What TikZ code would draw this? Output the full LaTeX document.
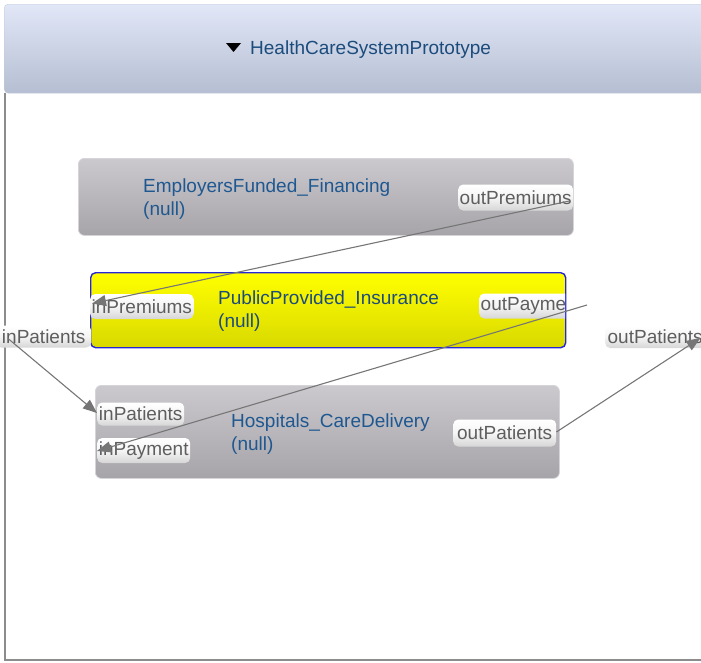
\documentclass[tikz,border=0pt]{standalone}
\usepackage{fontspec}
\setmainfont{Liberation Sans}
\usetikzlibrary{arrows.meta,calc}

\definecolor{hdrtop}{HTML}{E1E7F7}
\definecolor{hdrbot}{HTML}{B5BED2}
\definecolor{framegray}{HTML}{8C8C8C}
\definecolor{boxtop}{HTML}{CBC9CE}
\definecolor{boxbot}{HTML}{A6A4A9}
\definecolor{boxedge}{HTML}{D6D4D8}
\definecolor{yeltop}{HTML}{FFFF00}
\definecolor{yelbot}{HTML}{D9D900}
\definecolor{seledge}{HTML}{2626D9}
\definecolor{nametext}{HTML}{1F5890}
\definecolor{titletext}{HTML}{1C4C7C}
\definecolor{porttext}{HTML}{5E5E5E}
\definecolor{portbot}{HTML}{D6D6D6}
\definecolor{wire}{HTML}{767676}

\begin{document}
\begin{tikzpicture}[x=1pt,y=-1pt,
  every node/.style={font=\fontsize{19}{23}\selectfont},
  header/.style={top color=hdrtop, bottom color=hdrbot, draw=hdrbot!80!white,
    rounded corners=4pt, anchor=north west, inner sep=0pt},
  compbox/.style={top color=boxtop, bottom color=boxbot, draw=boxedge,
    line width=0.8pt, rounded corners=6pt, anchor=north west, inner sep=0pt},
  selbox/.style={top color=yeltop, bottom color=yelbot, draw=seledge,
    line width=1.4pt, rounded corners=5pt, anchor=north west, inner sep=0pt},
  compname/.style={text=nametext, align=left, anchor=west, inner sep=0pt},
  port/.style={top color=white, bottom color=portbot, middle color=white!96!black,
    rounded corners=5pt, text=porttext, inner xsep=1.5pt, inner ysep=0pt},
  conn/.style={draw=wire, line width=1.1pt,
    -{Triangle[length=14pt,width=11pt,fill=wire]}}
]
\useasboundingbox (0,0) rectangle (701,662);

% title bar of the diagram
\node[header, minimum width=702pt, minimum height=89pt] (hdr) at (4,4) {};
\fill[black] (226,43) -- (241,43) -- (233.5,52) -- cycle;
\node[anchor=west, text=titletext, inner sep=0pt] (title) at (250,49.5)
  {HealthCareSystemPrototype};

% canvas frame
\draw[framegray, line width=2pt] (5,93) -- (5,660) -- (702,660);

% components
\node[compbox, minimum width=495pt, minimum height=77pt] (emp) at (78,158) {};
\node[compname] (empname) at (143,199.5) {EmployersFunded\_Financing\\(null)};

\node[selbox, minimum width=475pt, minimum height=75pt] (ins) at (90,272) {};
\node[compname, text=titletext] (insname) at (218,311.5) {PublicProvided\_Insurance\\(null)};

\node[compbox, minimum width=464pt, minimum height=93pt] (hosp) at (95,385) {};
\node[compname] (hospname) at (231,434.5) {Hospitals\_CareDelivery\\(null)};

% ports
\node[port, anchor=west, minimum width=114pt, minimum height=26pt] (outPrem) at (458,197.5) {outPremiums};
\node[port, anchor=west, minimum width=99pt, minimum height=25pt] (inPrem) at (90,306.5) {inPremiums};
\begin{scope}
  \clip (90,272) rectangle (565,347);
  \node[port, anchor=west, minimum height=25pt] (outPay) at (479,306) {outPayment};
\end{scope}
\node[port, anchor=west, minimum width=95pt, minimum height=22pt] (inPatOut) at (-4,336.5) {inPatients};
\node[port, anchor=west, minimum width=100pt, minimum height=22pt] (outPatOut) at (605,337) {outPatients};
\node[port, anchor=west, minimum width=87pt, minimum height=23pt] (inPatIn) at (97,414) {inPatients};
\node[port, anchor=west, minimum width=93pt, minimum height=25pt] (inPayIn) at (97,450.5) {inPayment};
\node[port, anchor=west, minimum width=103pt, minimum height=27pt] (outPatIn) at (453,433) {outPatients};

% connectors
\coordinate (payEnd) at (587,305);
\draw[conn] ($(outPrem.east)+(-4,3.5)$) -- ($(inPrem.west)+(2,-3)$);
\draw[conn] ($(inPatOut.west)+(12,2)$) -- ($(inPatIn.west)+(0,-1)$);
\draw[conn] (payEnd) -- ($(inPayIn.west)+(0,0.5)$);
\draw[conn] ($(outPatIn.east)+(0,-1)$) -- ($(outPatOut.east)+(-5,1)$);
\end{tikzpicture}
\end{document}
